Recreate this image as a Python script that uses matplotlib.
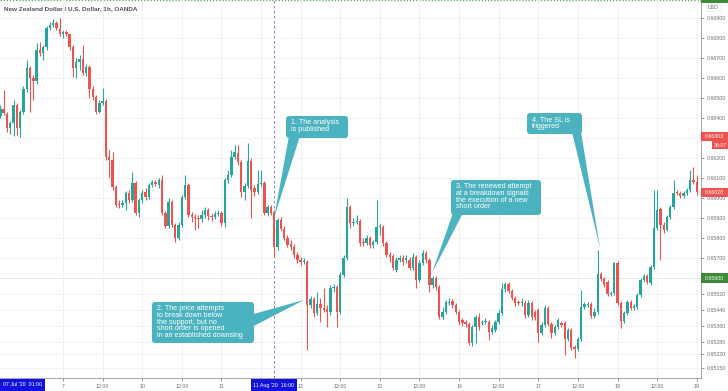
import matplotlib
matplotlib.use("Agg")
import matplotlib.pyplot as plt
from matplotlib.patches import FancyBboxPatch, Polygon, Rectangle
from matplotlib.transforms import Affine2D

# NZD/USD 1h candles, 6 Aug -> 19 Aug 2020 (weekend removed)
opens = [0.66410, 0.66445, 0.66420, 0.66350, 0.66375, 0.66465, 0.66350, 0.66430, 0.66545, 0.66650,
         0.66600, 0.66585, 0.66740, 0.66725, 0.66755, 0.66850, 0.66865, 0.66875, 0.66845, 0.66820,
         0.66830, 0.66820, 0.66755, 0.66650, 0.66680, 0.66695, 0.66625, 0.66655, 0.66545, 0.66505,
         0.66430, 0.66475, 0.66485, 0.66205, 0.66190, 0.66055, 0.65970, 0.65965, 0.65975, 0.66025,
         0.65990, 0.66075, 0.65925, 0.65990, 0.66030, 0.66005, 0.66065, 0.66080, 0.66065, 0.66090,
         0.65925, 0.65860, 0.65980, 0.65865, 0.65800, 0.65865, 0.66005, 0.66065, 0.65915, 0.65905,
         0.65900, 0.65895, 0.65915, 0.65940, 0.65910, 0.65905, 0.65920, 0.65925, 0.65875, 0.66090,
         0.66115, 0.66205, 0.66225, 0.66180, 0.66030, 0.66060, 0.66185, 0.66050, 0.66030, 0.66070,
         0.66075, 0.65925, 0.65955, 0.65930, 0.65755, 0.65890, 0.65845, 0.65800, 0.65770, 0.65755,
         0.65715, 0.65690, 0.65680, 0.65680, 0.65465, 0.65495, 0.65425, 0.65470, 0.65450, 0.65445,
         0.65430, 0.65550, 0.65555, 0.65430, 0.65615, 0.65700, 0.65955, 0.65875, 0.65880, 0.65885,
         0.65780, 0.65775, 0.65800, 0.65765, 0.65780, 0.65855, 0.65855, 0.65775, 0.65715, 0.65710,
         0.65640, 0.65690, 0.65700, 0.65690, 0.65690, 0.65650, 0.65705, 0.65590, 0.65675, 0.65725,
         0.65690, 0.65565, 0.65600, 0.65555, 0.65405, 0.65430, 0.65475, 0.65485, 0.65465, 0.65430,
         0.65390, 0.65380, 0.65370, 0.65275, 0.65355, 0.65405, 0.65375, 0.65380, 0.65380, 0.65330,
         0.65340, 0.65380, 0.65425, 0.65545, 0.65570, 0.65535, 0.65500, 0.65480, 0.65475, 0.65475,
         0.65415, 0.65475, 0.65430, 0.65440, 0.65325, 0.65365, 0.65450, 0.65370, 0.65325, 0.65355,
         0.65375, 0.65375, 0.65295, 0.65340, 0.65255, 0.65245, 0.65295, 0.65455, 0.65465, 0.65470,
         0.65410, 0.65430, 0.65620, 0.65595, 0.65580, 0.65520, 0.65525, 0.65675, 0.65475, 0.65385,
         0.65425, 0.65480, 0.65450, 0.65455, 0.65515, 0.65590, 0.65610, 0.65575, 0.65655, 0.65850,
         0.65945, 0.65865, 0.65840, 0.65905, 0.65955, 0.66030, 0.66025, 0.66010, 0.66025, 0.66040,
         0.66090, 0.66080]
closes = [0.66445, 0.66425, 0.66350, 0.66375, 0.66465, 0.66350, 0.66430, 0.66545, 0.66650, 0.66600,
          0.66585, 0.66740, 0.66725, 0.66755, 0.66850, 0.66865, 0.66875, 0.66850, 0.66820, 0.66830,
          0.66820, 0.66755, 0.66650, 0.66680, 0.66695, 0.66625, 0.66655, 0.66545, 0.66505, 0.66430,
          0.66475, 0.66485, 0.66205, 0.66190, 0.66055, 0.65965, 0.65965, 0.65975, 0.66025, 0.65990,
          0.66075, 0.65925, 0.65990, 0.66025, 0.66005, 0.66065, 0.66080, 0.66070, 0.66090, 0.65925,
          0.65860, 0.65980, 0.65865, 0.65800, 0.65865, 0.66005, 0.66065, 0.65915, 0.65905, 0.65900,
          0.65895, 0.65915, 0.65940, 0.65910, 0.65905, 0.65920, 0.65925, 0.65875, 0.66090, 0.66115,
          0.66205, 0.66230, 0.66180, 0.66030, 0.66060, 0.66185, 0.66040, 0.66030, 0.66070, 0.66075,
          0.65925, 0.65955, 0.65925, 0.65755, 0.65890, 0.65845, 0.65800, 0.65765, 0.65755, 0.65715,
          0.65690, 0.65680, 0.65685, 0.65465, 0.65495, 0.65425, 0.65470, 0.65450, 0.65440, 0.65430,
          0.65550, 0.65555, 0.65430, 0.65615, 0.65700, 0.65955, 0.65875, 0.65880, 0.65885, 0.65775,
          0.65775, 0.65800, 0.65765, 0.65780, 0.65855, 0.65860, 0.65775, 0.65715, 0.65705, 0.65650,
          0.65690, 0.65700, 0.65680, 0.65700, 0.65650, 0.65705, 0.65590, 0.65675, 0.65725, 0.65690,
          0.65565, 0.65600, 0.65555, 0.65405, 0.65430, 0.65480, 0.65480, 0.65465, 0.65430, 0.65380,
          0.65375, 0.65370, 0.65275, 0.65355, 0.65405, 0.65355, 0.65380, 0.65385, 0.65330, 0.65350,
          0.65380, 0.65425, 0.65545, 0.65570, 0.65535, 0.65500, 0.65475, 0.65475, 0.65480, 0.65415,
          0.65475, 0.65405, 0.65405, 0.65325, 0.65365, 0.65450, 0.65370, 0.65325, 0.65355, 0.65390,
          0.65365, 0.65295, 0.65340, 0.65250, 0.65245, 0.65295, 0.65455, 0.65470, 0.65470, 0.65410,
          0.65430, 0.65620, 0.65595, 0.65565, 0.65520, 0.65525, 0.65675, 0.65475, 0.65385, 0.65425,
          0.65480, 0.65450, 0.65460, 0.65515, 0.65590, 0.65610, 0.65580, 0.65655, 0.65850, 0.65940,
          0.65865, 0.65840, 0.65905, 0.65955, 0.66025, 0.66025, 0.66010, 0.66025, 0.66040, 0.66090,
          0.66080, 0.66028]
highs = [0.66465, 0.66540, 0.66430, 0.66385, 0.66490, 0.66475, 0.66440, 0.66560, 0.66690, 0.66660,
         0.66615, 0.66775, 0.66780, 0.66765, 0.66860, 0.66880, 0.66895, 0.66885, 0.66900, 0.66840,
         0.66840, 0.66825, 0.66765, 0.66700, 0.66715, 0.66765, 0.66670, 0.66665, 0.66560, 0.66515,
         0.66490, 0.66550, 0.66495, 0.66240, 0.66230, 0.66065, 0.65990, 0.65990, 0.66035, 0.66040,
         0.66130, 0.66085, 0.66000, 0.66040, 0.66050, 0.66075, 0.66090, 0.66090, 0.66100, 0.66115,
         0.65935, 0.66000, 0.65990, 0.65875, 0.65880, 0.66015, 0.66115, 0.66075, 0.65930, 0.65920,
         0.65915, 0.65940, 0.65955, 0.65950, 0.65925, 0.65935, 0.65940, 0.65935, 0.66100, 0.66140,
         0.66240, 0.66265, 0.66265, 0.66190, 0.66075, 0.66275, 0.66200, 0.66065, 0.66140, 0.66140,
         0.66085, 0.65965, 0.65965, 0.65940, 0.65900, 0.65905, 0.65860, 0.65815, 0.65790, 0.65770,
         0.65730, 0.65705, 0.65700, 0.65690, 0.65510, 0.65505, 0.65530, 0.65500, 0.65550, 0.65465,
         0.65565, 0.65570, 0.65565, 0.65630, 0.65715, 0.66000, 0.65965, 0.65900, 0.65915, 0.65895,
         0.65800, 0.65815, 0.65810, 0.65790, 0.65990, 0.65870, 0.65865, 0.65785, 0.65730, 0.65720,
         0.65705, 0.65715, 0.65715, 0.65715, 0.65705, 0.65725, 0.65715, 0.65690, 0.65740, 0.65735,
         0.65700, 0.65610, 0.65610, 0.65565, 0.65455, 0.65490, 0.65500, 0.65495, 0.65475, 0.65440,
         0.65400, 0.65390, 0.65380, 0.65365, 0.65415, 0.65425, 0.65390, 0.65400, 0.65390, 0.65365,
         0.65390, 0.65440, 0.65575, 0.65580, 0.65580, 0.65545, 0.65510, 0.65490, 0.65500, 0.65490,
         0.65490, 0.65485, 0.65440, 0.65450, 0.65380, 0.65465, 0.65460, 0.65380, 0.65365, 0.65400,
         0.65385, 0.65385, 0.65350, 0.65350, 0.65265, 0.65305, 0.65540, 0.65480, 0.65480, 0.65480,
         0.65450, 0.65740, 0.65630, 0.65605, 0.65590, 0.65535, 0.65680, 0.65685, 0.65485, 0.65435,
         0.65490, 0.65490, 0.65470, 0.65525, 0.65600, 0.65620, 0.65620, 0.65665, 0.66040, 0.66040,
         0.65955, 0.65880, 0.65915, 0.65965, 0.66090, 0.66040, 0.66035, 0.66035, 0.66050, 0.66140,
         0.66155, 0.66115]
lows = [0.66400, 0.66415, 0.66330, 0.66320, 0.66310, 0.66315, 0.66305, 0.66420, 0.66530, 0.66430,
        0.66490, 0.66570, 0.66710, 0.66690, 0.66740, 0.66840, 0.66855, 0.66840, 0.66810, 0.66800,
        0.66810, 0.66740, 0.66605, 0.66600, 0.66640, 0.66615, 0.66610, 0.66500, 0.66490, 0.66420,
        0.66425, 0.66465, 0.66190, 0.66105, 0.66040, 0.65955, 0.65950, 0.65955, 0.65940, 0.65975,
        0.65980, 0.65915, 0.65905, 0.65975, 0.65990, 0.65995, 0.66055, 0.66060, 0.66050, 0.65915,
        0.65850, 0.65850, 0.65855, 0.65780, 0.65790, 0.65855, 0.65995, 0.65905, 0.65880, 0.65840,
        0.65850, 0.65880, 0.65900, 0.65890, 0.65885, 0.65895, 0.65910, 0.65860, 0.65855, 0.66075,
        0.66105, 0.66195, 0.66165, 0.66005, 0.65990, 0.66050, 0.65900, 0.66010, 0.66020, 0.66060,
        0.65915, 0.65910, 0.65915, 0.65705, 0.65740, 0.65835, 0.65790, 0.65755, 0.65740, 0.65700,
        0.65675, 0.65665, 0.65670, 0.65240, 0.65450, 0.65405, 0.65415, 0.65380, 0.65430, 0.65355,
        0.65415, 0.65530, 0.65355, 0.65420, 0.65605, 0.65690, 0.65850, 0.65860, 0.65870, 0.65760,
        0.65760, 0.65765, 0.65750, 0.65750, 0.65770, 0.65815, 0.65760, 0.65705, 0.65680, 0.65640,
        0.65630, 0.65680, 0.65665, 0.65675, 0.65640, 0.65640, 0.65550, 0.65580, 0.65665, 0.65675,
        0.65530, 0.65550, 0.65540, 0.65395, 0.65395, 0.65420, 0.65465, 0.65450, 0.65420, 0.65365,
        0.65360, 0.65355, 0.65265, 0.65260, 0.65275, 0.65340, 0.65365, 0.65370, 0.65290, 0.65320,
        0.65330, 0.65370, 0.65415, 0.65530, 0.65525, 0.65490, 0.65460, 0.65465, 0.65460, 0.65400,
        0.65405, 0.65390, 0.65390, 0.65280, 0.65315, 0.65355, 0.65360, 0.65300, 0.65315, 0.65345,
        0.65355, 0.65215, 0.65285, 0.65240, 0.65200, 0.65235, 0.65285, 0.65445, 0.65455, 0.65400,
        0.65400, 0.65420, 0.65585, 0.65555, 0.65510, 0.65510, 0.65515, 0.65465, 0.65350, 0.65375,
        0.65415, 0.65440, 0.65440, 0.65445, 0.65505, 0.65580, 0.65570, 0.65565, 0.65645, 0.65840,
        0.65690, 0.65825, 0.65835, 0.65895, 0.65945, 0.66015, 0.66000, 0.66000, 0.66015, 0.66030,
        0.66070, 0.66015]

# tick labels hidden by the marker tags are left blank
time_ticks = [19, 31, 43, 55, 67, 79, 91, 103, 115, 127, 139, 151, 163, 175, 187, 199, 211]
time_labels = ['7', '12:00', '10', '12:00', '11', '', '12', '12:00', '13', '12:00',
               '14', '12:00', '17', '12:00', '18', '12:00', '19']
price_ticks = [0.669, 0.668, 0.667, 0.666, 0.665, 0.664, 0.663, 0.662, 0.661, 0.660,
               0.659, 0.658, 0.657, 0.656, 0.6552, 0.6544, 0.6536, 0.6528, 0.6522, 0.6515]
price_labels = ['0.66900', '0.66800', '0.66700', '0.66600', '0.66500', '0.66400', '',
                '0.66200', '0.66100', '0.66000', '0.65900', '0.65800', '0.65700', '',
                '0.65520', '0.65440', '0.65360', '0.65280', '0.65220', '0.65150']

support = 0.656
published_bar = 83

UP = '#26a69a'
DOWN = '#ef5350'
CALLOUT = '#4bb3c0'
W, H = 728, 391

plt.rcParams['font.family'] = ['Liberation Sans', 'DejaVu Sans']

fig = plt.figure(figsize=(W / 100, H / 100), dpi=100)
ax = fig.add_axes([0, 13 / H, 701 / W, 1 - 13 / H])

n = len(closes)
idx = list(range(n))
cols = [UP if c >= o else DOWN for o, c in zip(opens, closes)]
ax.vlines(idx, lows, highs, colors=cols, linewidth=0.8, zorder=2)
ax.bar(idx, [c - o for o, c in zip(opens, closes)], bottom=opens, width=0.72,
       color=cols, linewidth=0, zorder=3)

ax.set_xlim(-0.1, 212.3)
ax.set_ylim(0.6510, 0.6699)

ax.yaxis.tick_right()
ax.set_yticks(price_ticks)
ax.set_yticklabels(price_labels)
ax.set_xticks(time_ticks)
ax.set_xticklabels(time_labels)
ax.tick_params(axis='y', labelsize=3.8, colors='#6a6d78', length=2, width=0.5, pad=2)
ax.tick_params(axis='x', labelsize=3.8, colors='#6a6d78', length=2, width=0.5, pad=2)
ax.grid(True, color='#eef0f5', linewidth=0.6, zorder=0)
for s in ['top', 'left']:
    ax.spines[s].set_visible(False)
for s in ['right', 'bottom']:
    ax.spines[s].set_color('#9598a1')
    ax.spines[s].set_linewidth(0.6)

ax.axhline(support, color='#777777', linestyle=(0, (1, 1.5)), linewidth=0.7, zorder=1)
ax.axhline(0.6699, color='#4caf50', linestyle=(0, (1, 1.5)), linewidth=0.9, zorder=1)
ax.axvline(published_bar, color='#6b6bd8', linestyle=(0, (3, 3)), linewidth=0.6, zorder=1)

ax.text(0.005, 0.985, 'New Zealand Dollar / U.S. Dollar, 1h, OANDA', transform=ax.transAxes,
        fontsize=4.6, color='#50535e', ha='left', va='top', fontweight='bold')

# pixel coordinates (origin top-left) -> display
px = Affine2D().scale(1, -1).translate(0, H)


def callout(x0, y0, x1, y1, wedge, text):
    fig.add_artist(Polygon(wedge, closed=True, transform=px, facecolor=CALLOUT,
                           edgecolor='none', zorder=5))
    fig.add_artist(FancyBboxPatch((x0, y0), x1 - x0, y1 - y0,
                                  boxstyle='round,pad=0,rounding_size=3', transform=px,
                                  facecolor=CALLOUT, edgecolor='none', zorder=5))
    fig.text((x0 + 5) / W, 1 - (y0 + 3.5) / H, text, fontsize=5.1, color='white',
             ha='left', va='top', linespacing=0.92, zorder=6)


callout(286, 116, 348, 138, [(289, 136), (300, 136), (274, 218)],
        '1. The analysis\nis published')
callout(152, 302, 254, 343, [(250, 315), (250, 328), (304, 300)],
        '2. The price attempts\nto break down below\nthe support, but no\nshort order is opened\nin an established downsing')
callout(451, 180, 541, 215, [(453, 213), (463, 213), (432, 273)],
        '3. The renewed attempt\nat a breakdown signals\nthe execution of a new\nshort order')
callout(527, 113, 582, 134, [(572, 132), (581, 132), (600, 248)],
        '4. The SL is\ntriggered')


def tag(x0, y0, x1, y1, text, face, size=3.8):
    fig.add_artist(Rectangle((x0, y0), x1 - x0, y1 - y0, transform=px,
                             facecolor=face, edgecolor='none', zorder=7))
    if text:
        fig.text((x0 + x1) / 2 / W, 1 - (y0 + y1) / 2 / H, text, fontsize=size, color='white',
                 ha='center', va='center', zorder=8)


# price scale markers (the top alert tag is cut off by the frame)
tag(701, -4, 728, 3, '', '#3d8b37')
tag(701, 132, 728, 141, '0.66303', DOWN)
tag(712, 141, 728, 149, '36:07', DOWN)
tag(701, 188, 728, 197, '0.66028', DOWN)
tag(701, 273, 728, 283, '0.65600', '#3d8b37')
fig.text(708 / W, 1 - 7.5 / H, 'USD', fontsize=3.8, color='#6a6d78', ha='left', va='center',
         bbox=dict(boxstyle='round,pad=0.2', facecolor='white', edgecolor='#dddddd', linewidth=0.4))

# crosshair time labels
tag(0, 379, 45, 391, "07 Jul '20  01:00", '#1212e0', size=3.8)
tag(251, 379, 297, 391, "11 Aug '20  16:00", '#1212e0', size=3.8)

fig.savefig('out.png', dpi=100, facecolor='white')
